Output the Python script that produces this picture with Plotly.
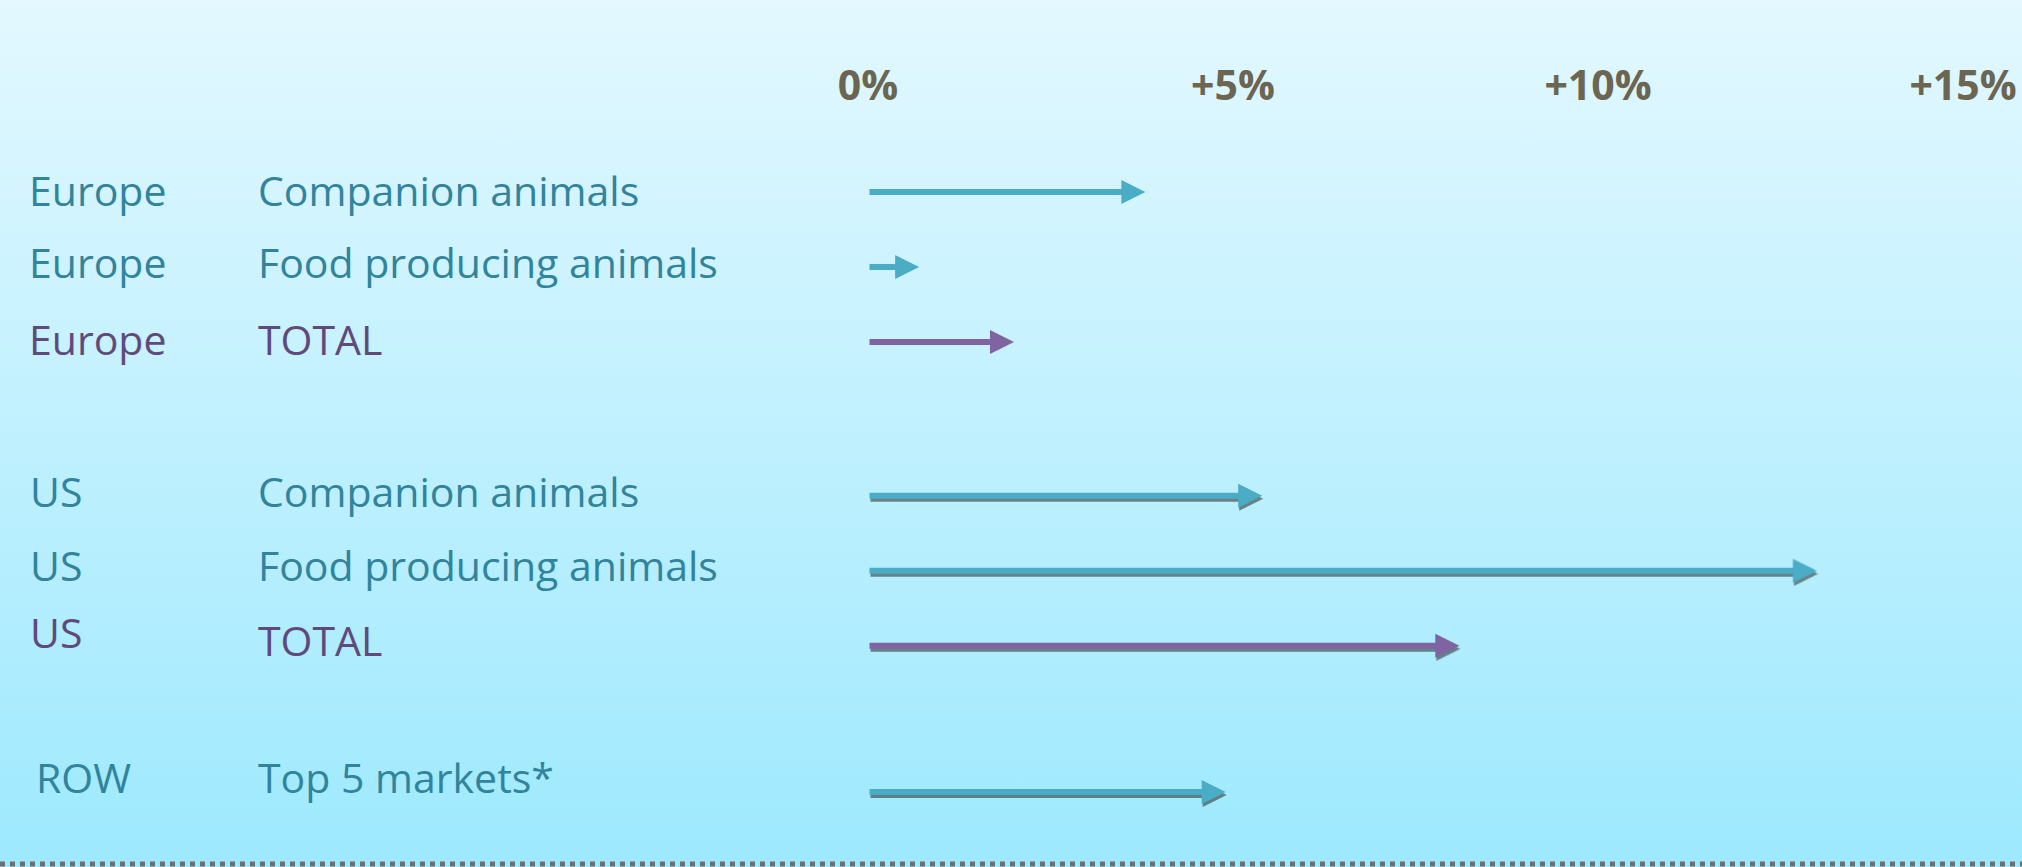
import base64
import plotly.graph_objects as go

# ---------------- data ----------------
regions = ["Europe", "Europe", "Europe", "US", "US", "US", "ROW"]
segments = ["Companion animals", "Food producing animals", "TOTAL",
            "Companion animals", "Food producing animals", "TOTAL",
            "Top 5 markets*"]
growth_pct = [3.8, 0.7, 2.0, 5.4, 13.0, 8.1, 4.9]
is_total = [False, False, True, False, False, True, False]
has_shadow = [False, False, False, True, True, True, True]
tick_vals = [0, 5, 10, 15]
tick_text = ["0%", "+5%", "+10%", "+15%"]

# ---------------- layout helpers ----------------
W, H = 2022, 867
row_y = [0, 1, 2, 4.05, 5.05, 6.05, 8.0]           # vertical slot of each row
region_yshift = [2, 5, 3, 5, 6, 14, 15]              # px offsets of label text
segment_yshift = [2, 5, 3, 5, 6, 6, 15]
region_x = [27, 27, 27, 28, 28, 28, 34]
segment_x = 256

PX_PER_PCT = 73.0
X0_PX = 868.0
x_range = [-X0_PX / PX_PER_PCT, (W - X0_PX) / PX_PER_PCT]
PX_PER_ROW = 75.0
Y0_PX = 192.0
y_range = [(H - Y0_PX) / PX_PER_ROW, -Y0_PX / PX_PER_ROW]

TEAL_ARROW = "#4BACC6"
PURPLE_ARROW = "#8064A2"
TEAL_TEXT = "#31849B"
PURPLE_TEXT = "#604A7B"
TICK_COLOR = "#6B6551"
FONT = "Open Sans"
LABEL_SIZE = 41

svg = (
    f'<svg xmlns="http://www.w3.org/2000/svg" width="{W}" height="{H}">'
    '<defs><linearGradient id="g" x1="0" y1="0" x2="0" y2="1">'
    '<stop offset="0" stop-color="#E3F8FF"/>'
    '<stop offset="1" stop-color="#9DE9FE"/>'
    '</linearGradient></defs>'
    f'<rect width="{W}" height="{H}" fill="url(#g)"/></svg>'
)
bg_uri = "data:image/svg+xml;base64," + base64.b64encode(svg.encode()).decode()

fig = go.Figure()
fig.add_trace(go.Scatter(x=growth_pct, y=row_y, mode="markers",
                         marker=dict(opacity=0), hoverinfo="skip",
                         showlegend=False))

annotations = []
for i in range(len(regions)):
    col_arrow = PURPLE_ARROW if is_total[i] else TEAL_ARROW
    col_text = PURPLE_TEXT if is_total[i] else TEAL_TEXT
    if has_shadow[i]:
        annotations.append(dict(
            x=growth_pct[i], y=row_y[i], ax=0, ay=row_y[i],
            xref="x", yref="y", axref="x", ayref="y", text="",
            showarrow=True, arrowhead=2, arrowsize=0.8, arrowwidth=6,
            arrowcolor="rgba(40,40,40,0.55)", yshift=-3, xshift=1))
    annotations.append(dict(
        x=growth_pct[i], y=row_y[i], ax=0, ay=row_y[i],
        xref="x", yref="y", axref="x", ayref="y", text="",
        showarrow=True, arrowhead=2, arrowsize=0.8, arrowwidth=6,
        arrowcolor=col_arrow))
    annotations.append(dict(
        x=region_x[i] / W, y=row_y[i], xref="paper", yref="y",
        xanchor="left", yanchor="middle", showarrow=False,
        text=regions[i], yshift=region_yshift[i],
        font=dict(family=FONT, size=LABEL_SIZE, color=col_text)))
    annotations.append(dict(
        x=segment_x / W, y=row_y[i], xref="paper", yref="y",
        xanchor="left", yanchor="middle", showarrow=False,
        text=segments[i], yshift=segment_yshift[i],
        font=dict(family=FONT, size=LABEL_SIZE, color=col_text)))

fig.update_layout(
    width=W, height=H, autosize=False,
    margin=dict(l=0, r=0, t=0, b=0),
    paper_bgcolor="#C8F1FE", plot_bgcolor="rgba(0,0,0,0)",
    showlegend=False,
    images=[dict(source=bg_uri, xref="paper", yref="paper", x=0, y=1,
                 sizex=1, sizey=1, sizing="stretch", layer="below",
                 xanchor="left", yanchor="top")],
    xaxis=dict(range=x_range, side="top", anchor="free",
               position=1 - 108 / H,
               tickmode="array", tickvals=tick_vals, ticktext=tick_text,
               tickfont=dict(family=FONT, size=41, color=TICK_COLOR,
                             weight="bold"),
               showgrid=False, zeroline=False, showline=False, ticks="",
               fixedrange=True),
    yaxis=dict(range=y_range, visible=False, showgrid=False,
               zeroline=False, fixedrange=True),
    annotations=annotations,
    shapes=[dict(type="line", xref="paper", yref="paper",
                 x0=0, x1=1, y0=3 / H, y1=3 / H,
                 line=dict(color="#6E6E6E", width=5, dash="dot"))],
)

fig.write_html("out.html", config={"displayModeBar": False})
